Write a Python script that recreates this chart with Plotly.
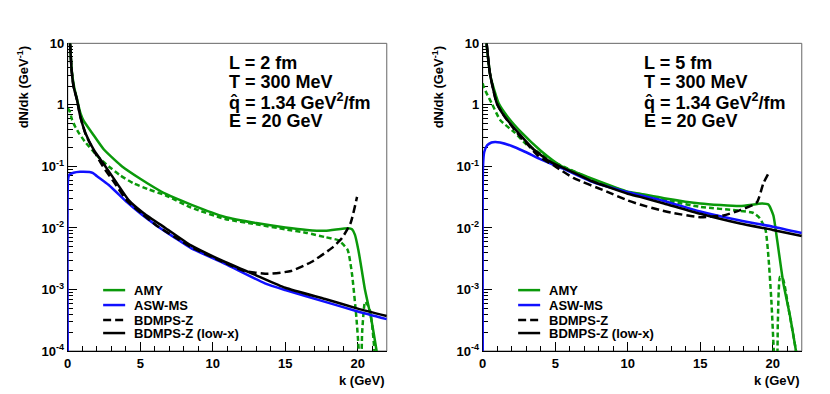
import plotly.graph_objects as go

# ---- data (k in GeV, dN/dk in GeV^-1) ----
# left panel: L = 2 fm
amy_k_l2 = [0.12, 0.16, 0.28, 0.45, 0.64, 0.87, 1.1, 1.68, 2.48, 3.2, 3.75, 5, 6, 6.73, 8.5, 10.85, 13,
            15, 16.5, 17.75, 19.35, 19.6, 19.8, 20.04, 20.27, 20.5, 20.9, 21.3, 21.5]
amy_y_l2 = [15, 10, 3.6, 1.9, 1.25, 0.74, 0.55, 0.35, 0.19, 0.13, 0.1, 0.063, 0.045, 0.036, 0.024, 0.0151,
            0.012, 0.0102, 0.0093, 0.009, 0.0099, 0.0095, 0.0078, 0.0044, 0.0021, 0.00098, 0.00036,
            0.0001, 0.00005]

amyd_k_l2 = [0, 0.14, 0.3, 0.5, 0.76, 1.2, 1.68, 2.2, 2.83, 3.6, 4.55, 5.5, 6.73, 8.5, 10.85, 13, 15,
             16.5, 17.75, 18.67, 19.3, 19.6, 19.9, 20.07, 20.1, 20.2, 20.3, 20.5, 20.7, 20.85, 21.0,
             21.15, 21.2]
amyd_y_l2 = [0.88, 0.78, 0.57, 0.45, 0.35, 0.25, 0.185, 0.135, 0.1, 0.072, 0.053, 0.043, 0.034, 0.0215,
             0.014, 0.0115, 0.0095, 0.0083, 0.0071, 0.0063, 0.0044, 0.0018, 0.00036, 0.0001, 0.00005,
             0.00005, 0.0002, 0.00063, 0.00055, 0.00045, 0.00025, 0.0001, 0.00005]

asw_k_l2 = [0, 0.02, 0.1, 0.4, 0.85, 1.5, 1.75, 2.0, 2.83, 4.1, 5.1, 6.16, 7.4, 8.5, 10.85, 13.6, 15,
            17.75, 20, 22]
asw_y_l2 = [0.0001, 0.06, 0.073, 0.079, 0.082, 0.081, 0.078, 0.07, 0.05, 0.026, 0.0165, 0.0108, 0.0069,
            0.0047, 0.00262, 0.00126, 0.00098, 0.00063, 0.00044, 0.00033]

bdz_k_l2 = [0.12, 0.16, 0.27, 0.4, 0.64, 0.87, 1.22, 1.8, 2.43, 3.2, 4.1, 5.1, 6.16, 7.4, 8.5, 10.85,
            12.2, 13.8, 15.4, 16.8, 18.2, 18.9, 19.5, 19.95]
bdz_y_l2 = [15, 10, 3.6, 2.0, 1.2, 0.64, 0.34, 0.18, 0.1, 0.055, 0.0275, 0.0172, 0.0108, 0.0071, 0.0049,
            0.0027, 0.002, 0.0018, 0.002, 0.0028, 0.0047, 0.0068, 0.0119, 0.032]

low_k_l2 = [0.12, 0.16, 0.27, 0.4, 0.64, 0.87, 1.22, 1.8, 2.6, 3.4, 4.2, 5.24, 6.73, 8.5, 10.85, 13, 15,
            17.75, 20, 22]
low_y_l2 = [15, 10, 3.6, 2.0, 1.2, 0.64, 0.35, 0.185, 0.1, 0.053, 0.0284, 0.0174, 0.01, 0.0052, 0.0028,
            0.0017, 0.00107, 0.0007, 0.00049, 0.00037]

# right panel: L = 5 fm
amy_k_l5 = [0.2, 0.3, 0.55, 1.1, 1.7, 2.7, 4, 5.45, 7.5, 10, 10.85, 12.5, 15, 17.75, 19.25, 19.7,
            20.04, 20.27, 20.73, 21.2, 21.6, 21.8]
amy_y_l5 = [15, 8, 2.8, 1.06, 0.65, 0.35, 0.18, 0.1, 0.064, 0.039, 0.036, 0.0305, 0.025, 0.0227, 0.025,
            0.024, 0.016, 0.0072, 0.00126, 0.00036, 0.0001, 0.00005]

amyd_k_l5 = [0, 0.05, 0.27, 0.62, 1.2, 2.23, 3, 4, 5, 7.5, 10, 10.85, 13, 15, 17.75, 18.67, 19.1,
             19.5, 19.7, 19.9, 20.07, 20.12, 20.25, 20.35, 20.5, 20.7, 21.1, 21.6, 21.7]
amyd_y_l5 = [2.24, 2.0, 1.54, 1.06, 0.57, 0.35, 0.23, 0.16, 0.115, 0.062, 0.038, 0.034, 0.027, 0.022,
             0.019, 0.0175, 0.0144, 0.0093, 0.0034, 0.00068, 0.0001, 0.00005, 0.00005, 0.0003, 0.0016,
             0.0015, 0.00047, 0.0001, 0.00005]

asw_k_l5 = [0, 0.02, 0.1, 0.3, 0.6, 0.85, 1.2, 2.0, 2.8, 4, 4.64, 5.5, 7.4, 10, 10.85, 12.5, 15, 17.75,
            20, 22]
asw_y_l5 = [0.0001, 0.1, 0.17, 0.22, 0.245, 0.25, 0.245, 0.215, 0.178, 0.13, 0.112, 0.093, 0.058, 0.038,
            0.034, 0.0275, 0.0185, 0.0132, 0.0105, 0.0083]

bdz_k_l5 = [0.2, 0.27, 0.5, 0.97, 1.5, 2.46, 3.0, 3.8, 5, 6.25, 8.55, 10, 10.85, 12.24, 13.17, 15, 16.6,
            17.75, 18.9, 19.35, 19.8]
bdz_y_l5 = [15, 10, 3.2, 1.06, 0.65, 0.33, 0.24, 0.15, 0.1, 0.065, 0.039, 0.028, 0.024, 0.0195, 0.0174,
            0.015, 0.016, 0.0195, 0.026, 0.053, 0.085]

low_k_l5 = [0.2, 0.27, 0.5, 0.97, 1.5, 2.46, 3.5, 4.76, 6, 7.5, 10, 10.85, 12.5, 15, 17.75, 20, 22]
low_y_l5 = [15, 10, 3.2, 1.06, 0.65, 0.35, 0.19, 0.115, 0.085, 0.058, 0.036, 0.032, 0.025, 0.017,
            0.0118, 0.0093, 0.0074]

legend_labels = ["AMY", "ASW-MS", "BDMPS-Z", "BDMPS-Z (low-x)"]
panel_texts = [
    ["L = 2 fm", "T = 300 MeV", "q\u0302 = 1.34 GeV<sup>2</sup>/fm", "E = 20 GeV"],
    ["L = 5 fm", "T = 300 MeV", "q\u0302 = 1.34 GeV<sup>2</sup>/fm", "E = 20 GeV"],
]
ytick_vals = [1e-4, 1e-3, 1e-2, 1e-1, 1, 10]
ytick_text = ["10<sup>-4</sup>", "10<sup>-3</sup>", "10<sup>-2</sup>", "10<sup>-1</sup>", "1", "10"]

GREEN = "#0a990a"
BLUE = "#1010ff"
BLACK = "#000000"
FONT = "Liberation Sans"

styles = [
    dict(color=GREEN, width=2.5),
    dict(color=BLUE, width=2.5),
    dict(color=BLACK, width=2.5, dash="8px,4px"),
    dict(color=BLACK, width=2.5),
]
green_dash = dict(color=GREEN, width=2.5, dash="5px,3px")

panels = [
    [(amyd_k_l2, amyd_y_l2, green_dash), (amy_k_l2, amy_y_l2, styles[0]), (asw_k_l2, asw_y_l2, styles[1]),
     (bdz_k_l2, bdz_y_l2, styles[2]), (low_k_l2, low_y_l2, styles[3])],
    [(amyd_k_l5, amyd_y_l5, green_dash), (amy_k_l5, amy_y_l5, styles[0]), (asw_k_l5, asw_y_l5, styles[1]),
     (bdz_k_l5, bdz_y_l5, styles[2]), (low_k_l5, low_y_l5, styles[3])],
]

fig = go.Figure()

for i, traces in enumerate(panels):
    xa = "x" if i == 0 else "x2"
    ya = "y" if i == 0 else "y2"
    for kk, yy, st in traces:
        fig.add_trace(go.Scatter(x=kk, y=yy, mode="lines", line=dict(st, shape="spline", smoothing=0.5),
                                 xaxis=xa, yaxis=ya, showlegend=False, hoverinfo="skip"))

minor_y = [m * 10 ** e for e in range(-4, 1) for m in range(2, 10)]

x_domains = [[0.0816, 0.466], [0.5816, 0.966]]
y_domain = [0.109, 0.89]

axis_common = dict(
    ticks="inside", tickcolor="black", tickwidth=1, showline=True, linecolor="black", linewidth=1,
    mirror=False, showgrid=False, zeroline=False, layer="below traces", automargin=False,
    tickfont=dict(family=FONT, size=13, color="black", weight="bold"),
)

layout = dict(
    width=830, height=394, margin=dict(l=0, r=0, t=0, b=0, autoexpand=False),
    plot_bgcolor="white", paper_bgcolor="white", showlegend=False,
)
for i in range(2):
    sfx = "" if i == 0 else "2"
    layout["xaxis" + sfx] = dict(
        axis_common, domain=x_domains[i], range=[0, 22], anchor="y" + sfx,
        tickmode="linear", tick0=0, dtick=5, ticklen=9,
        minor=dict(ticks="inside", dtick=1, ticklen=5, tickcolor="black"),
    )
    layout["yaxis" + sfx] = dict(
        axis_common, domain=y_domain, type="log", range=[-4, 1], anchor="x" + sfx,
        tickmode="array", tickvals=ytick_vals, ticktext=ytick_text, ticklen=9,
        minor=dict(ticks="inside", tickmode="array", tickvals=minor_y, ticklen=5, tickcolor="black"),
    )
fig.update_layout(**layout)

shapes = []
annotations = []
text_y = [0.935, 0.875, 0.81, 0.748]
leg_y = [0.198, 0.1495, 0.1007, 0.0585]
for i in range(2):
    xr = "x domain" if i == 0 else "x2 domain"
    yr = "y domain" if i == 0 else "y2 domain"
    # grey frame
    shapes.append(dict(type="rect", xref=xr, yref=yr, x0=0, x1=1, y0=0, y1=1,
                       line=dict(color="#666666", width=1), layer="below"))
    for j, t in enumerate(panel_texts[i]):
        annotations.append(dict(text=t, xref=xr, yref=yr, x=0.5, y=text_y[j], xanchor="left",
                                yanchor="middle", showarrow=False,
                                font=dict(family=FONT, size=18, color="black", weight="bold")))
    for j, lab in enumerate(legend_labels):
        st = styles[j]
        shapes.append(dict(type="line", xref=xr, yref=yr, x0=0.111, x1=0.18, y0=leg_y[j], y1=leg_y[j],
                           line=dict(color=st["color"], width=st["width"], dash=st.get("dash", "solid"))))
        annotations.append(dict(text=lab, xref=xr, yref=yr, x=0.2, y=leg_y[j], xanchor="left",
                                yanchor="middle", showarrow=False,
                                font=dict(family=FONT, size=13, color="black", weight="bold")))
    off = 0 if i == 0 else 415 / 830
    annotations.append(dict(text="dN/dk (GeV<sup>-1</sup>)", xref="paper", yref="paper",
                            x=0.0273 + off, y=0.78, xanchor="center", yanchor="middle", textangle=-90,
                            showarrow=False, font=dict(family=FONT, size=13, color="black", weight="bold")))
    annotations.append(dict(text="k (GeV)", xref="paper", yref="paper", x=x_domains[i][1], y=0.0355,
                            xanchor="right", yanchor="middle", showarrow=False,
                            font=dict(family=FONT, size=13, color="black", weight="bold")))

fig.update_layout(shapes=shapes, annotations=annotations)

# page body has an 8px default margin; drop it so the figure sits at the window origin
fig.write_html("out.html", config={"displayModeBar": False},
               post_script="document.body.style.margin='0px';")
